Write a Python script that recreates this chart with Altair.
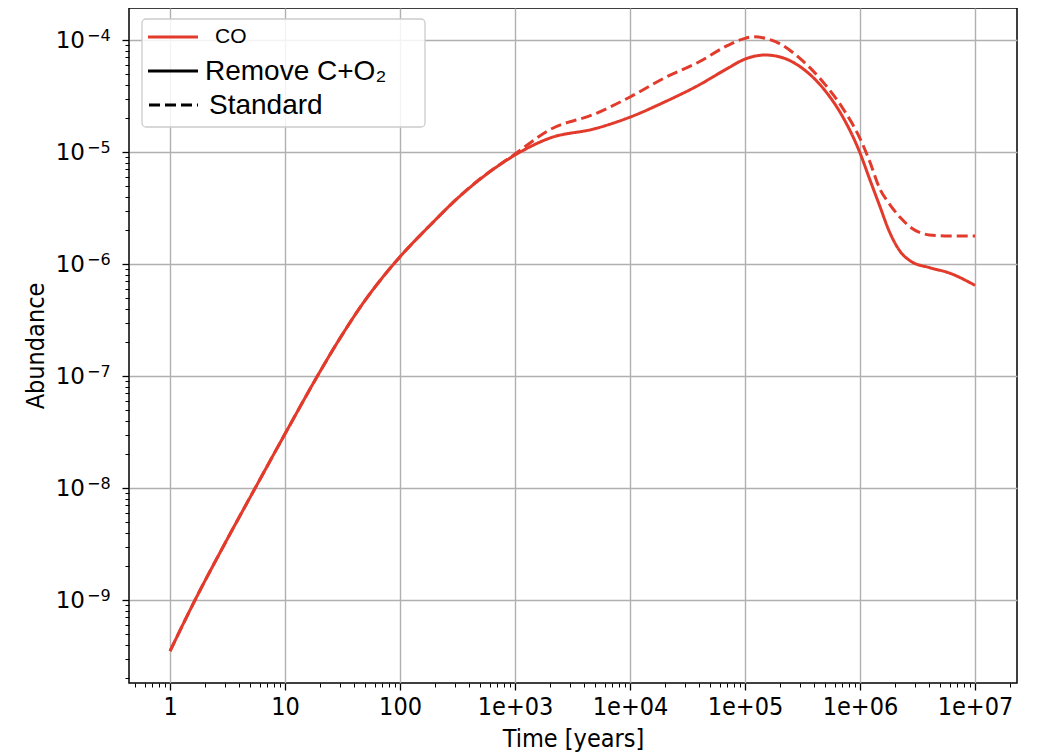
import altair as alt
import pandas as pd

# ---------------- data ----------------
times = [1, 1.65, 3, 5.5, 10, 14, 18.8, 30, 50, 70, 100, 200, 300, 500, 1e3, 2e3, 5e3,
         1e4, 2e4, 4e4, 7e4, 1e5, 1.2e5, 1.5e5, 2e5, 3e5, 5e5, 7e5, 1e6, 1.2e6, 1.5e6,
         1.78e6, 2.24e6, 2.8e6, 4e6, 6e6, 1e7]

co_remove = [3.5e-10, 1.0e-9, 3.2e-9, 1.0e-8, 3.05e-8, 5.68e-8, 9.7e-8, 2.17e-7, 4.79e-7,
             7.53e-7, 1.16e-6, 2.44e-6, 3.68e-6, 5.75e-6, 9.4e-6, 1.33e-5, 1.62e-5, 2.05e-5,
             2.8e-5, 3.98e-5, 5.56e-5, 6.76e-5, 7.16e-5, 7.35e-5, 7.08e-5, 5.8e-5, 3.5e-5,
             2.1e-5, 9.8e-6, 5.9e-6, 3.2e-6, 2.0e-6, 1.29e-6, 1.05e-6, 9.3e-7, 8.3e-7,
             6.45e-7]

co_standard = [3.5e-10, 1.0e-9, 3.2e-9, 1.0e-8, 3.05e-8, 5.68e-8, 9.7e-8, 2.17e-7, 4.79e-7,
               7.53e-7, 1.16e-6, 2.44e-6, 3.68e-6, 5.8e-6, 9.6e-6, 1.58e-5, 2.2e-5, 3.1e-5,
               4.6e-5, 6.4e-5, 8.9e-5, 1.035e-4, 1.07e-4, 1.035e-4, 9.3e-5, 6.85e-5, 3.98e-5,
               2.5e-5, 1.32e-5, 8.5e-6, 4.6e-6, 3.5e-6, 2.6e-6, 2.1e-6, 1.82e-6, 1.78e-6,
               1.78e-6]

series_names = ["Remove C+O\u2082", "Standard"]

x_tick_values = [1, 10, 100, 1e3, 1e4, 1e5, 1e6, 1e7]
x_tick_labels = ["1", "10", "100", "1e+03", "1e+04", "1e+05", "1e+06", "1e+07"]

y_tick_values = [1e-9, 1e-8, 1e-7, 1e-6, 1e-5, 1e-4]
y_tick_base = ["10", "10", "10", "10", "10", "10"]
y_tick_exps = ["\u22129", "\u22128", "\u22127", "\u22126", "\u22125", "\u22124"]

legend_labels = ["CO", "Remove C+O\u2082", "Standard"]

# ---------------- build tables ----------------
rows = []
for t, a in zip(times, co_remove):
    rows.append({"time": t, "abundance": a, "series": series_names[0]})
for t, a in zip(times, co_standard):
    rows.append({"time": t, "abundance": a, "series": series_names[1]})
df = pd.DataFrame(rows)

ylab_df = pd.DataFrame({"v": y_tick_values, "base": y_tick_base, "exp": y_tick_exps})

RED = "#e23b2c"
W, H = 888, 675
COND = "DejaVu Sans Condensed, DejaVu Sans"

x_minor = [m * 10 ** k for k in range(-1, 8) for m in range(2, 10)
           if 0.44 < m * 10 ** k < 2.3e7]
y_minor = [m * 10 ** k for k in range(-10, -3) for m in range(2, 10)
           if 1.82e-10 < m * 10 ** k < 1.93e-4]

xscale = alt.Scale(type="log", domain=[10 ** -0.357, 10 ** 7.365], nice=False)
yscale = alt.Scale(type="log", domain=[10 ** -9.741, 10 ** -3.714], nice=False)

x_lab_arr = "[" + ",".join(f"'{s}'" for s in x_tick_labels) + "]"

x_axis = alt.Axis(
    orient="bottom", values=x_tick_values,
    labelExpr=f"{x_lab_arr}[round(log(datum.value)/LN10)]",
    title="Time [years]", titleFont=COND,
    titleFontSize=25, titleFontWeight="normal", titleColor="#000", titlePadding=7,
    labelFont=COND, labelFontSize=25, labelColor="#000",
    labelPadding=4, labelFlush=False, labelOverlap=False,
    grid=True, gridColor="#b0b0b0", gridWidth=1.4,
    domain=False, ticks=True, tickSize=7, tickWidth=1.3, tickColor="#000",
)
y_axis = alt.Axis(
    orient="left", values=y_tick_values, labels=False,
    title="Abundance", titleFont=COND,
    titleFontSize=25, titleFontWeight="normal", titleColor="#000", titlePadding=73,
    grid=True, gridColor="#b0b0b0", gridWidth=1.4,
    domain=False, ticks=True, tickSize=7, tickWidth=1.3, tickColor="#000",
)

x_minor_axis = alt.Axis(orient="bottom", values=x_minor, labels=False, title=None,
                        grid=False, domain=False, tickSize=4, tickWidth=1,
                        tickColor="#000")
y_minor_axis = alt.Axis(orient="left", values=y_minor, labels=False, title=None,
                        grid=False, domain=False, tickSize=4, tickWidth=1,
                        tickColor="#000")

minor = alt.Chart(df).mark_point(opacity=0).encode(
    x=alt.X("time:Q", scale=xscale, axis=x_minor_axis),
    y=alt.Y("abundance:Q", scale=yscale, axis=y_minor_axis),
)

lines = alt.Chart(df).mark_line(strokeWidth=3, interpolate="monotone", clip=True).encode(
    x=alt.X("time:Q", scale=xscale, axis=x_axis),
    y=alt.Y("abundance:Q", scale=yscale, axis=y_axis),
    strokeDash=alt.StrokeDash("series:N",
                              scale=alt.Scale(domain=series_names, range=[[1, 0], [11, 5]]),
                              legend=None),
    color=alt.value(RED),
    detail="series:N",
)

# y tick labels drawn as base + superscript exponent (mathtext look)
ylab_base = alt.Chart(ylab_df).mark_text(align="right", baseline="middle", font="DejaVu Sans",
                                         fontSize=23, color="black", dy=1).encode(
    x=alt.value(-44), y=alt.Y("v:Q", scale=yscale, axis=None), text="base:N")
ylab_exp = alt.Chart(ylab_df).mark_text(align="left", baseline="middle", font="DejaVu Sans",
                                        fontSize=16, color="black", dy=-4).encode(
    x=alt.value(-42), y=alt.Y("v:Q", scale=yscale, axis=None), text="exp:N")

# ---------------- legend box ----------------
one = alt.Data(values=[{"k": 0}])
box = alt.Chart(one).mark_rect(fill="white", fillOpacity=0.85, stroke="#cccccc",
                               strokeWidth=1.3, cornerRadius=4).encode(
    x=alt.value(13), x2=alt.value(296), y=alt.value(11), y2=alt.value(119))

leg_red = alt.Chart(one).mark_rule(color=RED, strokeWidth=3).encode(
    x=alt.value(19), x2=alt.value(69), y=alt.value(29))
leg_solid = alt.Chart(one).mark_rule(color="black", strokeWidth=3).encode(
    x=alt.value(19), x2=alt.value(69), y=alt.value(63))
leg_dash = alt.Chart(one).mark_rule(color="black", strokeWidth=3, strokeDash=[11, 5]).encode(
    x=alt.value(20), x2=alt.value(69), y=alt.value(97))

txt_co = alt.Chart(one).mark_text(align="left", baseline="middle", font="Liberation Sans",
                                  fontSize=21, color="black", text=legend_labels[0]).encode(
    x=alt.value(86), y=alt.value(29))
txt_rm = alt.Chart(one).mark_text(align="left", baseline="middle", font="Liberation Sans",
                                  fontSize=28, color="black", text=legend_labels[1]).encode(
    x=alt.value(76), y=alt.value(64))
txt_st = alt.Chart(one).mark_text(align="left", baseline="middle", font="Liberation Sans",
                                  fontSize=28, color="black", text=legend_labels[2]).encode(
    x=alt.value(80), y=alt.value(98))

chart = alt.layer(minor, lines, ylab_base, ylab_exp, box, leg_red, leg_solid, leg_dash,
                  txt_co, txt_rm, txt_st).resolve_axis(
    x="independent", y="independent"
).properties(
    width=W, height=H,
    autosize=alt.AutoSizeParams(type="none"),
    padding={"left": 121, "top": 0, "right": 2, "bottom": 69},
    background="white",
).configure_view(stroke="black", strokeWidth=1.5)

chart.save("out.html", embed_options={"renderer": "svg", "actions": False})
